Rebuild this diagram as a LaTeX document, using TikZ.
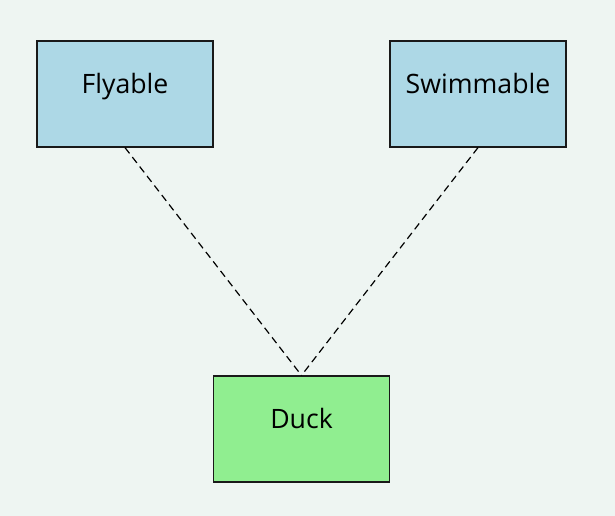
\documentclass[tikz,border=0pt]{standalone}
\usepackage{fontspec}
\setmainfont{Open Sans}
\definecolor{bgmint}{HTML}{EEF5F2}
\definecolor{ifacefill}{HTML}{ADD8E6}
\definecolor{classfill}{HTML}{90EE90}
\begin{document}
\begin{tikzpicture}[x=0.75pt,y=-0.75pt,thin,
    main node/.style={draw=black!90,line width=0.9pt,minimum width=132pt,minimum height=79.5pt,
      inner sep=0pt,text height=0pt,text depth=0pt,font=\fontsize{20}{22}\selectfont,anchor=center},
    iface/.style={main node,fill=ifacefill},
    impl/.style={main node,fill=classfill},
    realizes/.style={draw,line width=0.9pt,dash pattern=on 5.5pt off 3.5pt}]
    \fill[bgmint] (0,0) rectangle (615,516);
    \useasboundingbox (0,0) rectangle (615,516);
    \node[iface] (fly) at (125,94) {Flyable};
    \node[iface] (swim) at (478,94) {Swimmable};
    \node[impl] (duck) at (301.5,429) {Duck};

    \path[realizes]
      (fly.south) edge (duck.north)
      (swim.south) edge (duck.north);
  \end{tikzpicture}
\end{document}
